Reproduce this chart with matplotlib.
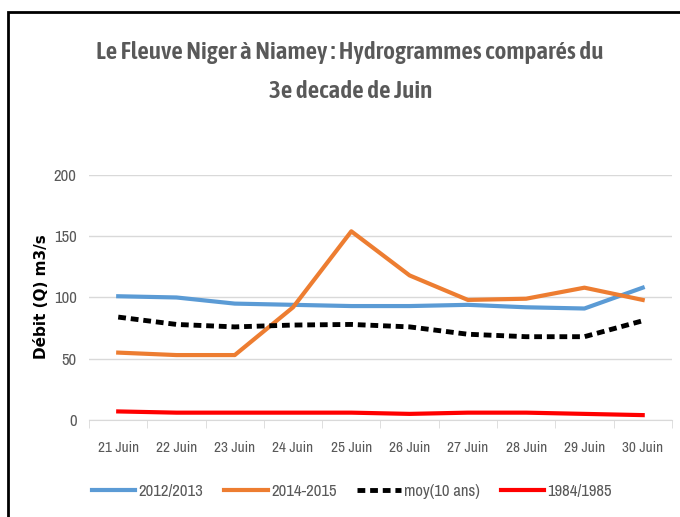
import matplotlib
matplotlib.use("Agg")
import matplotlib.pyplot as plt
from matplotlib.patches import Rectangle
import numpy as np

plt.rcParams['font.family'] = ['Archivo Narrow', 'DejaVu Sans']

jours = ["21 Juin", "22 Juin", "23 Juin", "24 Juin", "25 Juin",
         "26 Juin", "27 Juin", "28 Juin", "29 Juin", "30 Juin"]
q_2012 = [101, 100, 95, 94, 93, 93, 94, 92, 91, 108]
q_2014 = [55, 53, 53, 92, 154, 118, 98, 99, 108, 98]
q_moy = [84, 78, 76, 77.5, 78, 76, 70, 68, 68, 81]
q_1984 = [7, 6, 6, 6, 6, 5, 6, 6, 5, 4]

grey = '#595959'

fig = plt.figure(figsize=(6.8, 5.17), dpi=100)
ax = fig.add_axes([0.131, 0.1876, 0.857, 0.474])

x = np.arange(len(jours))
ax.plot(x, q_2012, color='#5b9bd5', lw=3, label='2012/2013')
ax.plot(x, q_2014, color='#ed7d31', lw=3, label='2014-2015')
ax.plot(x, q_moy, color='black', lw=3.5, ls=(0, (1.6, 1.0)), label='moy(10 ans)')
ax.plot(x, q_1984, color='#ff0000', lw=3, label='1984/1985')

ax.set_xlim(-0.5, 9.5)
ax.set_ylim(0, 200)
ax.set_yticks([0, 50, 100, 150, 200])
ax.grid(axis='y', color='#d9d9d9', lw=1)
ax.set_axisbelow(True)
for s in ['top', 'right', 'left']:
    ax.spines[s].set_visible(False)
ax.spines['bottom'].set_color('#d9d9d9')
ax.set_xticks(x)
ax.set_xticklabels(jours)
ax.set_xticks(np.arange(-0.5, 10, 1), minor=True)
ax.tick_params(axis='x', which='major', length=0, pad=15, labelsize=11, labelcolor=grey)
ax.tick_params(axis='x', which='minor', length=6, color='#d9d9d9')
ax.tick_params(axis='y', length=0, pad=9, labelsize=12, labelcolor=grey)

fig.text(42 / 680, 1 - 297 / 517, 'Débit (Q) m3/s', rotation=90,
         ha='center', va='center', fontsize=11, fontweight='bold',
         family='DejaVu Sans', color='black')

title_font = dict(family=['Asap Condensed', 'Archivo Narrow', 'DejaVu Sans'],
                  fontweight='semibold', fontsize=18.2, color=grey,
                  ha='center', va='center')
fig.text(0.515, 1 - 52 / 517, 'Le Fleuve Niger à Niamey : Hydrogrammes comparés du',
         **title_font)
fig.text(0.515, 1 - 92 / 517, '3e decade de Juin', **title_font)

ax.legend(loc='center', bbox_to_anchor=(0.451, -0.29), ncol=4, frameon=False,
          fontsize=12, labelcolor=grey, handlelength=2.6, handletextpad=0.2,
          columnspacing=1.25)

fig.patches.append(Rectangle((8 / 680, -0.1), 1.2, 1.1 - 12 / 517,
                             transform=fig.transFigure, fill=False,
                             edgecolor='black', lw=2))

fig.savefig('out.png', dpi=100)
